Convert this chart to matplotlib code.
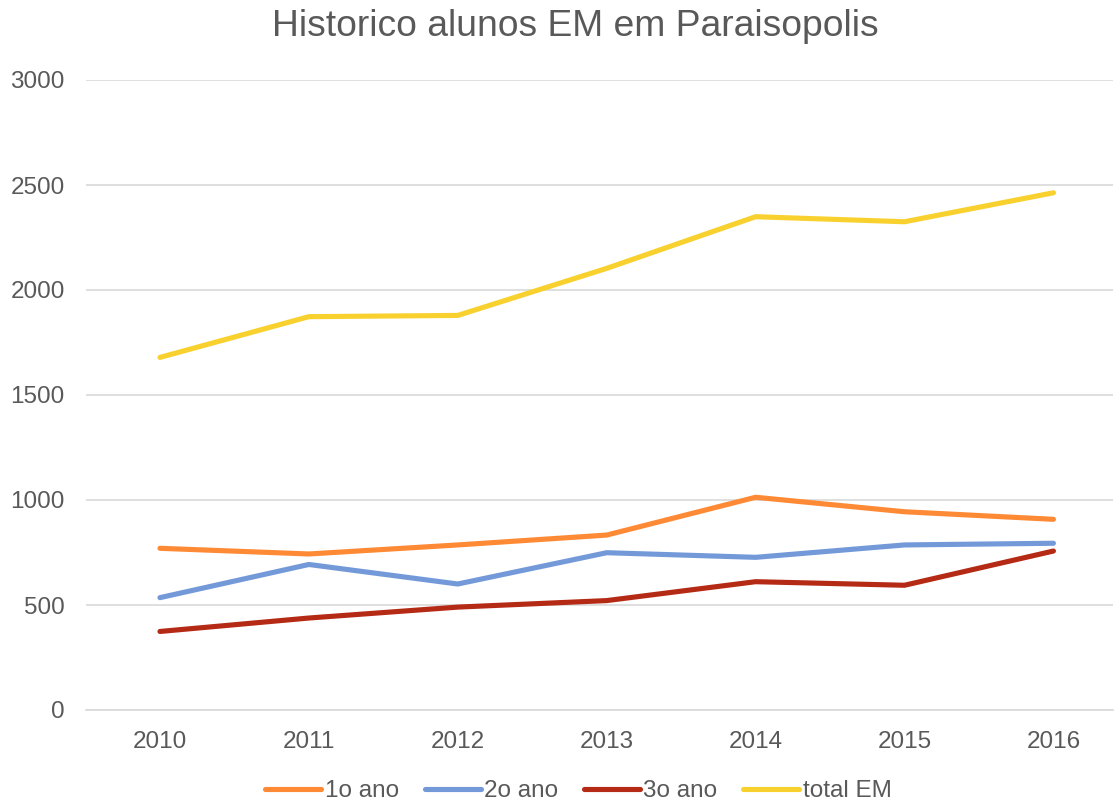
import matplotlib
matplotlib.use("Agg")
import matplotlib.pyplot as plt

years = ["2010", "2011", "2012", "2013", "2014", "2015", "2016"]
ano1 = [770, 743, 786, 833, 1013, 944, 908]
ano2 = [535, 693, 600, 749, 727, 786, 794]
ano3 = [374, 438, 490, 521, 611, 594, 757]
total = [1679, 1873, 1879, 2103, 2349, 2325, 2463]
series_names = ["1o ano", "2o ano", "3o ano", "total EM"]
colors = ["#FF8A36", "#7399D9", "#B52A15", "#F8D12F"]
yticks = [0, 500, 1000, 1500, 2000, 2500, 3000]

plt.rcParams['font.family'] = ['Liberation Sans', 'DejaVu Sans']
grey = "#595959"

fig = plt.figure(figsize=(11.14, 8.01), dpi=100)
ax = fig.add_axes([85.5/1114, 1-710/801, (1113-85.5)/1114, (710-80)/801])

x = list(range(len(years)))
for vals, name, c in zip([ano1, ano2, ano3, total], series_names, colors):
    ax.plot(x, vals, color=c, lw=3.7, label=name, solid_capstyle='round', solid_joinstyle='round')

ax.set_xlim(-0.5, 6.4)
ax.set_ylim(0, 3000)
ax.set_yticks(yticks)
ax.set_xticks(x)
ax.set_xticklabels(years)
ax.grid(axis='y', color='#D9D9D9', lw=1.2)
ax.set_axisbelow(True)
for s in ['top', 'right', 'left']:
    ax.spines[s].set_visible(False)
ax.spines['bottom'].set_color('#D9D9D9')
ax.spines['bottom'].set_linewidth(1.2)
ax.tick_params(axis='both', length=0, labelsize=17.5, colors=grey)
ax.tick_params(axis='x', pad=15)
ax.tick_params(axis='y', pad=15)

fig.text(575.5/1114, 1-27/801, "Historico alunos EM em Paraisopolis", ha='center', va='center',
         fontsize=26.8, color=grey)

leg = fig.legend(loc='center', bbox_to_anchor=(578.5/1114, 1-791/801), ncol=4, frameon=False,
                 fontsize=17.5, handlelength=2.3, handletextpad=0.15, columnspacing=1.05,
                 labelcolor=grey, borderpad=0, borderaxespad=0)

fig.savefig("out.png", dpi=100)
